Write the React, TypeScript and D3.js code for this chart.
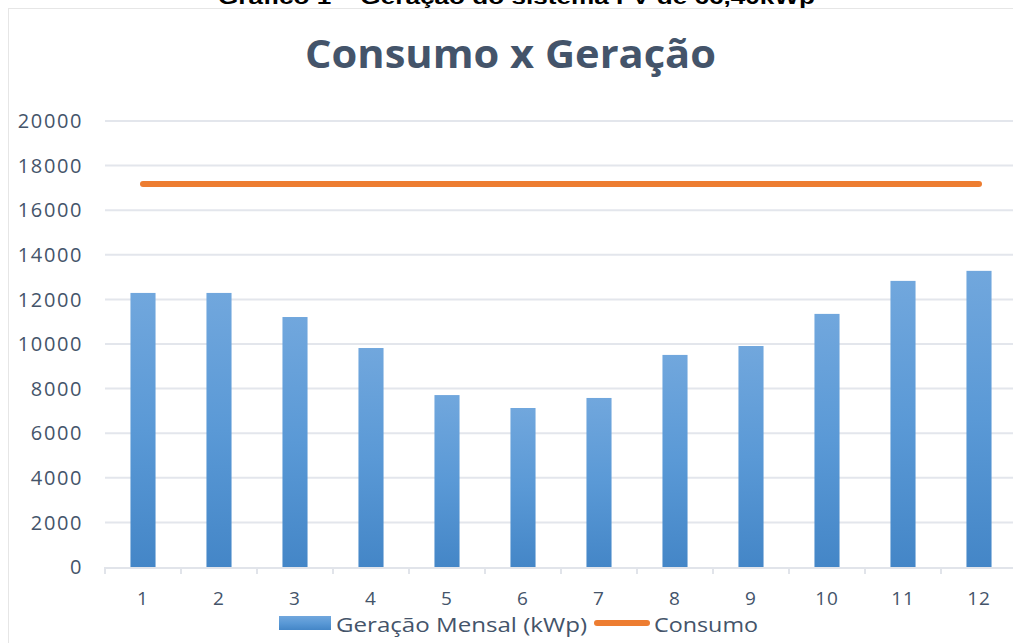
import React from "react";
import * as d3 from "d3";

const months = ["1", "2", "3", "4", "5", "6", "7", "8", "9", "10", "11", "12"];
const geracao = [12290, 12290, 11210, 9820, 7710, 7130, 7580, 9510, 9910, 11350, 12830, 13280];
const consumo = [17180, 17180, 17180, 17180, 17180, 17180, 17180, 17180, 17180, 17180, 17180, 17180];
const yTicks = [0, 2000, 4000, 6000, 8000, 10000, 12000, 14000, 16000, 18000, 20000];

const W = 1013;
const H = 643;
const left = 105;
const right = 1017;
const top = 121;
const bottom = 567;
const textColor = "#44546A";
const font = "'Open Sans', Lato, sans-serif";

export default function App() {
  const x = d3.scaleBand<string>().domain(months).range([left, right]).padding(0);
  const y = d3.scaleLinear().domain([0, 20000]).range([bottom, top]);
  const barW = x.bandwidth() * 0.33;
  const line = d3
    .line<number>()
    .x((_, i) => (x(months[i]) as number) + x.bandwidth() / 2)
    .y((d) => y(d));

  return (
    <svg
      width={W}
      height={H}
      style={{ position: "absolute", left: 0, top: 0, background: "#fff" }}
    >
      <defs>
        <linearGradient id="barGrad" x1="0" y1="0" x2="0" y2="1">
          <stop offset="0%" stopColor="#71A7DD" />
          <stop offset="50%" stopColor="#5A99D6" />
          <stop offset="100%" stopColor="#4486C7" />
        </linearGradient>
      </defs>
      <text
        x={218}
        y={4}
        textLength={597}
        lengthAdjust="spacingAndGlyphs"
        fontFamily="'Liberation Sans', Arial, sans-serif"
        fontWeight="bold"
        fontSize={21}
        fill="#000"
      >
        Gráfico 1 – Geração do sistema FV de 66,40kWp
      </text>
      <rect x={8.5} y={8.5} width={W + 10} height={H} fill="none" stroke="#e6e6e6" />
      <text
        x={305}
        y={68}
        textLength={411}
        lengthAdjust="spacingAndGlyphs"
        fontFamily={font}
        fontWeight="bold"
        fontSize={40}
        fill={textColor}
      >
        Consumo x Geração
      </text>
      {yTicks.map((t) => (
        <g key={t}>
          {t > 0 && (
            <line x1={left} x2={W} y1={y(t)} y2={y(t)} stroke="#E3E6EC" strokeWidth={2} />
          )}
          <text
            x={83}
            y={y(t)}
            dy="0.36em"
            textAnchor="end"
            fontFamily={font}
            fontSize={20}
            letterSpacing={1.6}
            fill={textColor}
          >
            {t}
          </text>
        </g>
      ))}
      {geracao.map((v, i) => {
        const cx = (x(months[i]) as number) + x.bandwidth() / 2;
        return (
          <rect
            key={i}
            x={cx - barW / 2}
            y={y(v)}
            width={barW}
            height={y(0) - y(v)}
            fill="url(#barGrad)"
          />
        );
      })}
      <line x1={left} x2={W} y1={bottom + 1} y2={bottom + 1} stroke="#E1E4EA" strokeWidth={2} />
      {months.concat(["end"]).map((m, i) => {
        const xx = left + i * x.step();
        return (
          <line key={m} x1={xx} x2={xx} y1={bottom} y2={bottom + 7} stroke="#E1E4EA" strokeWidth={2} />
        );
      })}
      {months.map((m) => (
        <text
          key={m}
          x={(x(m) as number) + x.bandwidth() / 2}
          y={605}
          textAnchor="middle"
          fontFamily={font}
          fontSize={19}
          letterSpacing={1}
          fill={textColor}
        >
          {m}
        </text>
      ))}
      <path
        d={line(consumo) || ""}
        fill="none"
        stroke="#ED7D31"
        strokeWidth={6}
        strokeLinecap="round"
      />
      <rect x={279} y={616} width={52} height={14} fill="url(#barGrad)" />
      <text
        x={336}
        y={632}
        textLength={251}
        lengthAdjust="spacingAndGlyphs"
        fontFamily={font}
        fontSize={20}
        fill={textColor}
      >
        Geração Mensal (kWp)
      </text>
      <line x1={597} x2={647} y1={623} y2={623} stroke="#ED7D31" strokeWidth={6} strokeLinecap="round" />
      <text
        x={654}
        y={632}
        textLength={104}
        lengthAdjust="spacingAndGlyphs"
        fontFamily={font}
        fontSize={20}
        fill={textColor}
      >
        Consumo
      </text>
    </svg>
  );
}
